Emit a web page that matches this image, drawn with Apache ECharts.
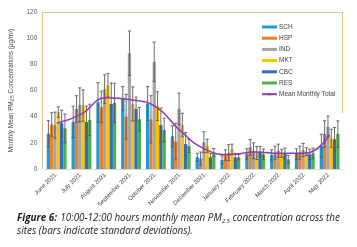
<!DOCTYPE html>
<html><head><meta charset="utf-8">
<script src="https://cdn.jsdelivr.net/npm/echarts@6/dist/echarts.min.js"></script>
<style>html,body{margin:0;padding:0;background:#fff;}#c{width:357px;height:247px;}</style>
</head><body><div id="c"></div>
<script>
var categories = ["June 2021.","July 2021.","August 2021.","September 2021.","October 2021.","November 2021.","December 2021.","January 2022.","February 2022.","March 2022.","April 2022.","May 2022."];
var seriesNames = ["SCH","HSP","IND","MKT","CBC","RES"];
var SCH = [27, 36, 51, 54, 50, 25, 9, 7, 11.5, 10.7, 11.5, 17.6];
var HSP = [34, 46, 47.5, 40, 38, 21, 8, 10.7, 16.5, 12.5, 12.5, 26.8];
var IND = [33.5, 49, 61, 88.5, 82, 46, 20.5, 12.5, 14, 14, 14.5, 32.4];
var MKT = [43.5, 48.5, 64, 49.7, 48, 33.6, 17.7, 15, 12.2, 12, 13.3, 23.4];
var CBC = [35, 36, 49.7, 46, 33.6, 19, 9, 8.9, 13.3, 12, 11.2, 22.7];
var RES = [31, 37.5, 50.5, 38, 29.8, 17.6, 12.6, 9, 11.2, 7.4, 12, 26.8];
var SCH_sd = [10, 12, 15, 9, 13, 8, 3, 3, 4, 4, 4, 9];
var HSP_sd = [9, 10, 12, 17, 18, 14, 5, 4, 6, 5, 5, 10];
var IND_sd = [10, 13, 11, 17, 15, 12, 8, 6, 6, 5, 5, 8];
var MKT_sd = [4, 12, 9, 13, 11, 9, 5, 4, 5, 3, 3, 7];
var CBC_sd = [10, 12, 16, 9, 13, 9, 3, 3, 4, 4, 4, 9];
var RES_sd = [11, 12, 15, 9, 9, 5, 3, 2, 4, 3, 4, 10];
var meanTotal = [35, 42, 54.5, 53, 47.5, 29, 15, 11, 13, 12, 12, 26];
var yTicks = [0, 20, 40, 60, 80, 100, 120];

var colors = ["#1F9BD7","#F07F2A","#A5A5A5","#FFC000","#2E6FC2","#4CAF50"];
var values = [SCH, HSP, IND, MKT, CBC, RES];
var sds = [SCH_sd, HSP_sd, IND_sd, MKT_sd, CBC_sd, RES_sd];
var nBars = 6, catGapFrac = 0.2;

var chart = echarts.init(document.getElementById('c'), null, {renderer: 'canvas'});
var series = [];
values.forEach(function (v, i) {
  series.push({
    name: seriesNames[i], type: 'bar', data: v, barGap: '0%', barCategoryGap: '20%',
    itemStyle: {color: colors[i]}, z: 2
  });
});
values.forEach(function (v, i) {
  var d = v.map(function (m, k) { return [k, m, sds[i][k]]; });
  series.push({
    type: 'custom', name: seriesNames[i] + '_err', data: d, z: 5, silent: true,
    renderItem: function (params, api) {
      var k = api.value(0), m = api.value(1), s = api.value(2);
      var band = api.size([1, 0])[0];
      var groupW = band * (1 - catGapFrac);
      var bw = groupW / nBars;
      var c = api.coord([k, m]);
      var x = c[0] - groupW / 2 + bw * (i + 0.5);
      var yt = api.coord([k, m + s])[1];
      var yb = api.coord([k, Math.max(m - s, 0)])[1];
      var cap = 1.6;
      var st = {stroke: '#595959', lineWidth: 0.9};
      return {type: 'group', children: [
        {type: 'line', shape: {x1: x, y1: yt, x2: x, y2: yb}, style: st},
        {type: 'line', shape: {x1: x - cap, y1: yt, x2: x + cap, y2: yt}, style: st},
        {type: 'line', shape: {x1: x - cap, y1: yb, x2: x + cap, y2: yb}, style: st}
      ]};
    }
  });
});
series.push({
  name: 'Mean Monthly Total', type: 'line', data: meanTotal, smooth: 0.5,
  symbol: 'none', showSymbol: false, z: 10,
  lineStyle: {color: '#8E3BB8', width: 1.5}, itemStyle: {color: '#8E3BB8'}
});

var legendData = seriesNames.map(function (n) { return {name: n, icon: 'rect'}; });
legendData.push({name: 'Mean Monthly Total'});

chart.setOption({
  animation: false,
  textStyle: {fontFamily: 'Liberation Sans, Arial, sans-serif'},
  grid: {left: 42, right: 15, top: 12, bottom: 78, containLabel: false},
  legend: {
    data: legendData, orient: 'vertical', left: 261, top: 23, padding: 0,
    itemWidth: 15, itemHeight: 3, itemGap: 3.2,
    textStyle: {fontSize: 6.5, color: '#404040', padding: [0, 0, 0, -3], lineHeight: 8}
  },
  xAxis: {
    type: 'category', data: categories,
    axisLine: {lineStyle: {color: '#D9D9D9', width: 1}},
    axisTick: {show: false},
    axisLabel: {rotate: 45, fontSize: 6, color: '#404040', margin: 4, interval: 0}
  },
  yAxis: {
    type: 'value', min: 0, max: 120, interval: 20,
    axisLine: {show: false}, axisTick: {show: false}, splitLine: {show: false},
    axisLabel: {fontSize: 6.5, color: '#595959', margin: 7,
      formatter: function (v) { return yTicks.indexOf(v) >= 0 ? String(v) : ''; }},
    name: '{a|Monthly Mean PM}{s|2.5}{a| Concentrations (µg/m³)}',
    nameLocation: 'middle', nameGap: 24, nameRotate: 90,
    nameTextStyle: {rich: {a: {fontSize: 6.3, color: '#404040'}, s: {fontSize: 4.5, color: '#404040', verticalAlign: 'bottom', padding: [4, 0, 0, 0]}}}
  },
  graphic: [
    {type: 'line', shape: {x1: 42.5, y1: 12.5, x2: 342.5, y2: 12.5}, style: {stroke: '#DCC48E', lineWidth: 1}, z: 20},
    {type: 'line', shape: {x1: 42.5, y1: 12.5, x2: 42.5, y2: 169}, style: {stroke: '#DCC48E', lineWidth: 1}, z: 20},
    {type: 'line', shape: {x1: 342.5, y1: 12.5, x2: 342.5, y2: 113}, style: {stroke: '#DCC48E', lineWidth: 1}, z: 20},
    {type: 'text', left: 17, top: 212, style: {
      text: '{b|Figure 6:} {i|10:00-12:00 hours monthly mean PM}{s|2.5}{i| concentration across the}',
      rich: {
        b: {fontFamily: 'Open Sans', fontStyle: 'italic', fontWeight: 'bold', fontSize: 9.9, fill: '#1a1a1a'},
        i: {fontFamily: 'Open Sans', fontStyle: 'italic', fontSize: 9.9, fill: '#1a1a1a'},
        s: {fontFamily: 'Open Sans', fontStyle: 'italic', fontSize: 6, fill: '#1a1a1a', verticalAlign: 'bottom', padding: [6, 0, 0, 0]}
      }}},
    {type: 'text', left: 17, top: 226, style: {
      text: 'sites (bars indicate standard deviations).',
      fontFamily: 'Open Sans', fontStyle: 'italic', fontSize: 9.9, fill: '#1a1a1a'}}
  ],
  series: series
});
</script></body></html>
